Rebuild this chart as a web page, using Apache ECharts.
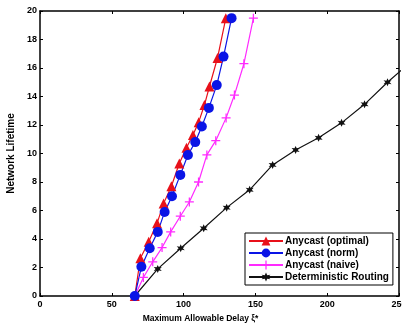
<!DOCTYPE html>
<html>
<head>
<meta charset="utf-8">
<script src="https://cdn.jsdelivr.net/npm/echarts@6/dist/echarts.min.js"></script>
<style>html,body{margin:0;padding:0;background:#fff}#c{width:402px;height:326px}</style>
</head>
<body>
<div id="c"></div>
<script>
const seriesNames = ['Anycast (optimal)', 'Anycast (norm)', 'Anycast (naive)', 'Deterministic Routing'];
const optimalX = [66, 69.9, 75.7, 81.5, 86.1, 91.5, 97, 102, 106.5, 110.5, 114.5, 118, 123.6, 129.4];
const optimalY = [0, 2.65, 3.8, 5.1, 6.5, 7.7, 9.3, 10.4, 11.3, 12.2, 13.4, 14.7, 16.7, 19.5];
const normX = [66, 70.6, 76.4, 82, 86.8, 91.9, 97.7, 103, 108.1, 112.7, 117.6, 123.1, 127.8, 133.4];
const normY = [0, 2.05, 3.35, 4.5, 5.9, 7.0, 8.5, 9.9, 10.8, 11.9, 13.2, 14.8, 16.8, 19.5];
const naiveX = [66, 72, 78.5, 85, 91, 97.7, 104, 110.4, 116.2, 122.4, 129.6, 135.4, 142, 148.6];
const naiveY = [0, 1.3, 2.4, 3.4, 4.5, 5.6, 6.6, 8.0, 9.9, 10.9, 12.5, 14.1, 16.3, 19.5];
const detX = [66, 82, 98, 114, 130, 146, 162, 178, 194, 210, 226, 242, 258];
const detY = [0, 1.9, 3.35, 4.75, 6.2, 7.45, 9.2, 10.25, 11.1, 12.15, 13.45, 15.0, 16.4];
const xTicks = [0, 50, 100, 150, 200, 250];
const yTicks = [0, 2, 4, 6, 8, 10, 12, 14, 16, 18, 20];

const zip = (xs, ys) => xs.map((x, i) => [x, ys[i]]);
const plusPath = 'path://M4.3,0H5.7V4.3H10V5.7H5.7V10H4.3V5.7H0V4.3H4.3Z';
const starPath = 'path://M5,0L6.2,3L9.3,2.5L7.3,5L9.3,7.5L6.2,7L5,10L3.8,7L0.7,7.5L2.7,5L0.7,2.5L3.8,3Z';
const font = '"Liberation Sans", Arial, sans-serif';

const chart = echarts.init(document.getElementById('c'), null, {renderer: 'canvas'});
const axisCommon = {
  type: 'value',
  axisLine: {show: true, onZero: false, lineStyle: {color: '#000', width: 1.5}},
  axisTick: {show: true, inside: true, length: 3, lineStyle: {color: '#000', width: 1}},
  splitLine: {show: false}
};
const mkSeries = (name, xs, ys, color, symbol, size) => ({
  name, type: 'line', data: zip(xs, ys), symbol, symbolSize: size,
  lineStyle: {color, width: 1.2}, itemStyle: {color, borderColor: color, borderWidth: 0},
  clip: true, animation: false, z: 3
});
chart.setOption({
  animation: false,
  grid: {left: 40, right: 3, top: 11, bottom: 30, containLabel: false, outerBoundsMode: 'none'},
  xAxis: [
    Object.assign({}, axisCommon, {
      min: 0, max: 250, interval: 50, position: 'bottom',
      axisLabel: {color: '#000', fontSize: 9, fontWeight: 'bold', fontFamily: font, margin: 4,
        hideOverlap: false, formatter: v => xTicks.includes(v) ? String(v) : ''},
      name: 'Maximum Allowable Delay \u03BE*', nameLocation: 'middle', nameGap: 17,
      nameTextStyle: {color: '#000', fontSize: 8.5, fontWeight: 'bold', fontFamily: font, padding: [0, 38, 0, 0]}
    }),
    Object.assign({}, axisCommon, {min: 0, max: 250, interval: 50, position: 'top', axisLabel: {show: false}})
  ],
  yAxis: [
    Object.assign({}, axisCommon, {
      min: 0, max: 20, interval: 2, position: 'left',
      axisLabel: {color: '#000', fontSize: 9, fontWeight: 'bold', fontFamily: font, margin: 3,
        formatter: v => yTicks.includes(v) ? String(v) : ''},
      name: 'Network Lifetime', nameLocation: 'middle', nameGap: 14, nameRotate: 90,
      nameTextStyle: {color: '#000', fontSize: 10, fontWeight: 'bold', fontFamily: font}
    }),
    Object.assign({}, axisCommon, {min: 0, max: 20, interval: 2, position: 'right', axisLabel: {show: false}})
  ],
  legend: {
    orient: 'vertical', left: 245, top: 233,
    backgroundColor: '#fff', borderColor: '#000', borderWidth: 1,
    padding: [3, 4, 3, 3], itemGap: 2, itemWidth: 34, itemHeight: 11,
    textStyle: {color: '#000', fontSize: 10, fontWeight: 'bold', fontFamily: font, padding: [0, 0, 0, -3]},
    data: seriesNames
  },
  series: [
    mkSeries(seriesNames[3], detX, detY, '#111', starPath, 8),
    mkSeries(seriesNames[2], naiveX, naiveY, '#ff2aff', plusPath, 9),
    mkSeries(seriesNames[0], optimalX, optimalY, '#e8101a', 'triangle', 10),
    mkSeries(seriesNames[1], normX, normY, '#0a14e6', 'circle', 10)
  ]
});
</script>
</body>
</html>
